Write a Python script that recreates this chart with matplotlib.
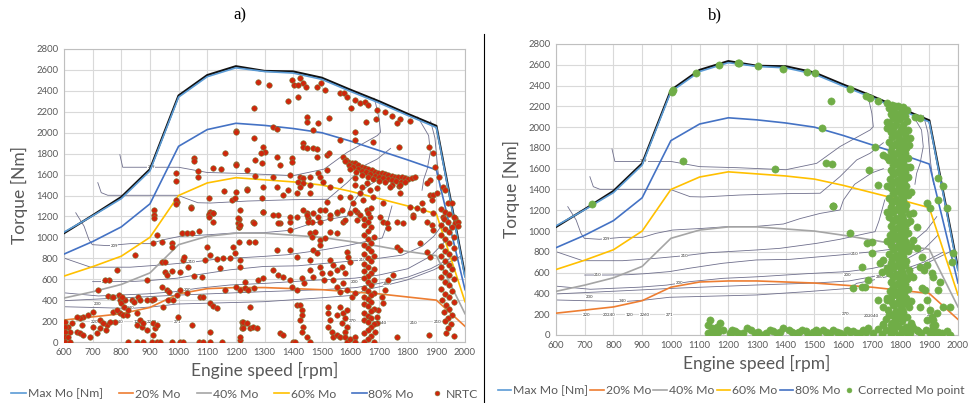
import matplotlib
matplotlib.use("Agg")
import matplotlib.pyplot as plt
from matplotlib.lines import Line2D
import numpy as np

plt.rcParams['font.family'] = ['Lato', 'DejaVu Sans']

# ---------------- data ----------------
rpm = [600, 700, 800, 900, 1000, 1100, 1200, 1300, 1400, 1500, 1600, 1700, 1800, 1900, 2000]
max_mo = [1050, 1205, 1370, 1635, 2340, 2535, 2620, 2585, 2570, 2510, 2395, 2285, 2165, 2050, 620]
full_load = [1040, 1210, 1385, 1650, 2355, 2550, 2635, 2590, 2585, 2525, 2410, 2300, 2180, 2065, 640]
mo80 = [840, 960, 1100, 1320, 1870, 2030, 2090, 2070, 2040, 2000, 1920, 1830, 1740, 1645, 500]
mo60 = [630, 720, 820, 1000, 1400, 1520, 1570, 1550, 1530, 1500, 1440, 1370, 1300, 1225, 385]
mo40 = [420, 480, 550, 660, 930, 1010, 1040, 1040, 1020, 1000, 960, 915, 865, 825, 270]
mo20 = [210, 240, 270, 330, 460, 510, 520, 520, 510, 500, 480, 460, 430, 400, 150]

contour_lines = [
    [(795, 1790), (805, 1670), (900, 1670), (1000, 1670), (1100, 1620), (1230, 1610), (1400, 1590),
     (1508, 1652), (1589, 1813), (1694, 1973), (1705, 2005), (1700, 2133), (1688, 2280), (1682, 2330)],
    [(718, 1523), (730, 1427), (753, 1402), (997, 1402), (1067, 1331), (1112, 1328), (1241, 1347),
     (1400, 1360), (1520, 1364), (1589, 1524), (1647, 1684), (1694, 1749), (1740, 1850)],
    [(641, 1235), (670, 1107), (687, 978), (699, 930), (751, 921), (832, 940), (902, 940), (948, 978),
     (1006, 1010), (1111, 1026), (1192, 1042), (1297, 1045), (1392, 1068), (1450, 1120), (1520, 1170),
     (1589, 1203), (1601, 1299), (1640, 1450), (1700, 1560), (1740, 1600)],
    [(600, 802), (693, 715), (832, 715), (948, 738), (1047, 763), (1134, 792), (1297, 818), (1380, 834),
     (1508, 882), (1589, 921), (1682, 978), (1711, 994), (1725, 1100), (1745, 1300)],
    [(700, 577), (780, 577), (850, 580), (910, 590), (995, 610), (1064, 642), (1180, 690), (1297, 722),
     (1415, 728), (1589, 770), (1705, 802), (1780, 830), (1850, 914), (1891, 1010), (1926, 1139)],
    [(600, 470), (720, 440), (890, 460), (985, 480), (1065, 513), (1180, 545), (1300, 560), (1473, 590),
     (1615, 610), (1700, 640), (1800, 700), (1880, 820), (1930, 960)],
    [(600, 395), (890, 433), (1006, 449), (1297, 481), (1500, 500), (1620, 520), (1700, 560), (1800, 620),
     (1880, 700), (1950, 800)],
    [(600, 337), (832, 321), (913, 337), (995, 363), (1297, 385), (1473, 417), (1624, 449), (1647, 497),
     (1705, 529), (1798, 593), (1891, 690), (1984, 818)],
    [(1835, 2150), (1873, 1973), (1879, 1813), (1868, 1652), (1856, 1556), (1850, 1450)],
    [(1880, 2110), (1895, 1950), (1900, 1800), (1905, 1650), (1915, 1450)],
]
contour_labels = ["209", "209", "210", "210", "210", "200", "200", "280", "230", "240",
                  "220", "20240", "120", "2260", "271", "270", "202040", "210", "210"]
contour_label_pos = [(905, 1672), (775, 922), (1047, 763), (745, 577), (1641, 779), (1030, 497),
                     (1615, 577), (1726, 555), (716, 362), (832, 327), (705, 193), (786, 193),
                     (855, 193), (908, 193), (995, 193), (1607, 199), (1700, 183), (1821, 177),
                     (1903, 193)]

nrtc_points = [
    (914, 1262), (914, 1214), (914, 1182), (923, 1023), (912, 943), (941, 953), (978, 943), (978, 911),
    (993, 1341), (1044, 1293), (1011, 1039), (1028, 1039), (1046, 1039), (1071, 1064), (1106, 1214),
    (1121, 1230), (1110, 1245), (1098, 905), (848, 832), (941, 768), (953, 768), (953, 672), (958, 640),
    (978, 682), (1005, 672), (1014, 784), (1019, 816), (1032, 720), (1055, 631), (1081, 624), (1092, 784),
    (1110, 832), (1133, 790), (1145, 704), (1156, 800), (1180, 800), (1197, 848), (1214, 784), (1206, 1140),
    (1212, 1102), (1191, 911), (889, 593), (784, 688), (758, 593), (743, 593), (718, 497), (755, 440),
    (766, 433), (772, 433), (793, 449), (795, 401), (798, 370), (813, 401), (810, 338), (836, 401),
    (846, 385), (860, 433), (866, 401), (889, 401), (906, 401), (915, 408), (947, 338), (964, 401),
    (982, 401), (993, 449), (958, 497), (967, 481), (941, 529), (1005, 497), (1028, 465), (1075, 433),
    (1087, 433), (1110, 370), (1121, 344), (1133, 328), (1162, 497), (1214, 497), (668, 242), (685, 258),
    (702, 290), (726, 210), (795, 274), (778, 194), (749, 163), (761, 194), (726, 131), (747, 115),
    (714, 83), (691, 51), (702, 147), (656, 226), (662, 163), (644, 99), (656, 83), (668, 67), (615, 147),
    (621, 99), (603, 194), (603, 147), (603, 99), (603, 51), (603, 3), (615, 51), (621, 3), (627, 179),
    (644, 242), (737, 179), (772, 290), (786, 306), (801, 433), (807, 258), (819, 258), (825, 306),
    (854, 274), (866, 210), (854, 163), (871, 147), (877, 179), (889, 115), (825, 3), (854, 3), (877, 3),
    (906, 3), (923, 3), (935, 3), (978, 3), (1005, 3), (1017, 3), (912, 67), (918, 131), (912, 179),
    (923, 163), (999, 242), (1046, 163), (1071, 3), (1087, 3), (1110, 3), (1110, 99), (1150, 3),
    (1214, 19), (1220, 194), (1226, 163), (1220, 131),
    (1199, 2019), (991, 1611), (991, 1541), (1055, 1761), (1055, 1733), (1069, 1637), (1069, 1580),
    (1121, 1659), (1147, 1650), (1162, 1809), (1199, 1701), (1238, 1643), (1107, 1373), (1160, 1446),
    (1199, 1436), (1238, 1459), (1185, 1357), (991, 1357), (991, 1318), (1044, 1277), (1107, 1223),
    (1121, 1229), (1107, 1191), (1121, 1150), (1212, 1178), (1212, 1102),
    (1279, 2487), (1317, 2455), (1395, 2503), (1424, 2519), (1433, 2478), (1404, 2455), (1418, 2455),
    (1445, 2440), (1418, 2344), (1485, 2440), (1496, 2471), (1511, 2408), (1564, 2376), (1578, 2382),
    (1589, 2344), (1616, 2312), (1634, 2287), (1651, 2296), (1601, 2232), (1663, 2264), (1692, 2217),
    (1721, 2201), (1746, 2159), (1773, 2127), (1808, 2115), (1654, 2105), (1689, 2127), (1761, 2089),
    (1383, 2306), (1447, 2153), (1447, 2105), (1488, 2096), (1526, 2140), (1263, 2232), (1201, 2010),
    (1331, 2057), (1342, 2032), (1471, 2026), (1564, 1930), (1616, 2010), (1616, 1930), (1680, 1914),
    (1771, 1866), (1876, 1866), (1887, 1809), (1263, 1946), (1296, 1860), (1302, 1818), (1287, 1803),
    (1342, 1771), (1395, 1761), (1395, 1723), (1433, 1898), (1433, 1866), (1447, 1850), (1471, 1850),
    (1485, 1841), (1517, 1787), (1526, 1803), (1267, 1739), (1290, 1707), (1201, 1691), (1354, 1691),
    (1482, 1771),
    (1573, 1771), (1585, 1739), (1593, 1723), (1604, 1713), (1616, 1707), (1628, 1691), (1639, 1675),
    (1651, 1659), (1663, 1650), (1674, 1643), (1686, 1627), (1698, 1618), (1709, 1611), (1721, 1605),
    (1732, 1596), (1744, 1589), (1756, 1580), (1767, 1580), (1779, 1573), (1791, 1564), (1802, 1557),
    (1814, 1564), (1826, 1580),
    (1580, 1730), (1595, 1690), (1610, 1675), (1625, 1655), (1640, 1635), (1655, 1620), (1670, 1605),
    (1685, 1590), (1700, 1578), (1715, 1565), (1730, 1555), (1745, 1545), (1760, 1540), (1775, 1530),
    (1790, 1525),
    (1600, 1650), (1620, 1625), (1640, 1600), (1660, 1580), (1680, 1560), (1700, 1540), (1720, 1525),
    (1745, 1505), (1770, 1495),
    (1424, 1580), (1433, 1564), (1418, 1532), (1433, 1516), (1459, 1580), (1488, 1611), (1494, 1580),
    (1517, 1643), (1389, 1596), (1329, 1580), (1267, 1586), (1238, 1452), (1296, 1484), (1342, 1484),
    (1383, 1452), (1424, 1484), (1459, 1500), (1505, 1532), (1529, 1484), (1564, 1548), (1616, 1564),
    (1616, 1500), (1639, 1484), (1657, 1516), (1668, 1452), (1692, 1468), (1738, 1484), (1773, 1500),
    (1197, 1373), (1290, 1373), (1366, 1404), (1412, 1420), (1459, 1420), (1517, 1341), (1564, 1389),
    (1599, 1389), (1610, 1325), (1634, 1420), (1645, 1357), (1680, 1389), (1715, 1325), (1773, 1420),
    (1808, 1293), (1849, 1325), (1855, 1261), (1878, 1404), (1890, 1404), (1884, 1357), (1901, 1420),
    (1878, 1548), (1866, 1516), (1895, 1675), (1924, 1484), (1930, 1452), (1910, 1580), (1942, 1325),
    (1953, 1325), (1965, 1182), (1965, 1134), (1924, 1197), (1209, 1182), (1261, 1150), (1296, 1245),
    (1348, 1213), (1354, 1134), (1389, 1150), (1412, 1197), (1447, 1229), (1453, 1182), (1465, 1150),
    (1488, 1197), (1494, 1150), (1529, 1182), (1552, 1229), (1575, 1150), (1622, 1245), (1634, 1213),
    (1622, 1166), (1657, 1261), (1668, 1197), (1703, 1197), (1715, 1150), (1761, 1150), (1820, 1213),
    (1866, 1150), (1890, 1229),
    (1215, 1261), (1215, 1118), (1263, 1134), (1296, 1245), (1331, 1214), (1348, 1134), (1389, 1198),
    (1389, 1070), (1436, 1261), (1447, 1214), (1453, 1150), (1471, 1230), (1494, 1261), (1511, 1261),
    (1529, 1214), (1552, 1245), (1570, 1261), (1581, 1166), (1599, 1230), (1616, 1261), (1459, 1039),
    (1465, 1007), (1476, 1055), (1494, 975), (1511, 991), (1494, 927), (1529, 1055), (1552, 1039),
    (1212, 959), (1247, 959), (1267, 959), (1342, 879), (1389, 879), (1412, 816), (1471, 879), (1482, 847),
    (1529, 784), (1540, 736), (1552, 688), (1587, 863), (1593, 816), (1599, 768), (1570, 720), (1581, 656),
    (1529, 656), (1540, 593), (1552, 529), (1564, 481), (1575, 561), (1587, 497), (1494, 720), (1500, 656),
    (1506, 593), (1459, 784), (1459, 688), (1471, 624), (1430, 608), (1438, 561), (1389, 593), (1395, 529),
    (1412, 497), (1331, 688), (1348, 640), (1366, 624), (1279, 593), (1296, 608), (1232, 577), (1232, 513),
    (1244, 497), (1201, 529), (1263, 513), (1215, 720), (1412, 354), (1424, 354), (1430, 306), (1430, 258),
    (1424, 210), (1436, 147), (1430, 99), (1401, 0), (1408, 0), (1447, 51), (1459, 0), (1523, 338),
    (1523, 274), (1529, 210), (1523, 147), (1535, 99), (1540, 51), (1552, 67), (1564, 45), (1564, 338),
    (1575, 274), (1581, 226), (1587, 306), (1570, 179), (1587, 147), (1581, 99), (1581, 51), (1587, 3),
    (1552, 258), (1599, 26), (1616, 51), (1616, 3), (1604, 433), (1616, 465), (1226, 194), (1238, 179),
    (1249, 131), (1261, 147), (1273, 131), (1226, 131), (1215, 51), (1249, 338), (1354, 83), (1366, 67),
    (1709, 433), (1721, 497), (1715, 370), (1698, 306), (1692, 242), (1692, 179), (1686, 99), (1761, 51),
    (1750, 640), (1732, 593), (1761, 911), (1773, 879), (1785, 1134), (1727, 1134), (1732, 1087),
    (1820, 1198), (1831, 1277), (1843, 943), (1866, 863), (1878, 816), (1884, 1118), (1890, 1070),
    (1875, 67),
    (1648, 1180), (1660, 1150), (1648, 1120), (1672, 1100), (1660, 1060), (1648, 1020), (1684, 1000),
    (1660, 980), (1672, 950), (1648, 930), (1660, 900), (1672, 870), (1648, 840), (1684, 820), (1660, 800),
    (1672, 770), (1648, 750), (1660, 720), (1684, 700), (1648, 680), (1672, 660), (1660, 630), (1648, 610),
    (1684, 590), (1660, 570), (1672, 540), (1648, 520), (1660, 490), (1684, 470), (1672, 450), (1648, 430),
    (1660, 410), (1672, 380), (1648, 360), (1660, 340), (1684, 320), (1672, 300), (1648, 280), (1660, 250),
    (1672, 230), (1648, 210), (1660, 190), (1684, 170), (1672, 140), (1660, 110), (1648, 90), (1672, 60),
    (1660, 30), (1648, 0), (1684, 0), (1660, 1230), (1672, 1280),
    (1915, 1270), (1930, 1240), (1945, 1220), (1960, 1190), (1925, 1180), (1940, 1150), (1915, 1120),
    (1955, 1100), (1930, 1080), (1945, 1050), (1915, 1020), (1960, 1000), (1930, 980), (1945, 950),
    (1915, 920), (1960, 900), (1930, 870), (1945, 840), (1915, 820), (1960, 800), (1930, 770), (1945, 740),
    (1915, 720), (1955, 700), (1930, 670), (1945, 640), (1915, 620), (1960, 600), (1930, 570), (1945, 540),
    (1915, 510), (1955, 490), (1930, 460), (1945, 430), (1920, 400), (1960, 380), (1935, 350), (1945, 320),
    (1925, 290), (1955, 260), (1940, 230), (1930, 200), (1950, 170), (1940, 130), (1935, 90), (1960, 60),
    (1975, 1150), (1975, 1110),
]

corrected_points = [
    (1752, 2230), (1770, 2215), (1790, 2200), (1808, 2190), (1821, 2165), (1760, 2180), (1778, 2160),
    (1800, 2150), (1765, 2130), (1790, 2120), (1815, 2110), (1772, 2085), (1798, 2075), (1822, 2060),
    (1760, 2040), (1785, 2030), (1810, 2020), (1775, 1995), (1800, 1985), (1825, 1975), (1765, 1950),
    (1790, 1940), (1815, 1930), (1770, 1905), (1795, 1895), (1820, 1885), (1760, 1860), (1785, 1850),
    (1810, 1840), (1830, 1830), (1770, 1815), (1795, 1805), (1820, 1795), (1765, 1770), (1790, 1760),
    (1815, 1750), (1775, 1725), (1800, 1715), (1825, 1705), (1760, 1680), (1785, 1670), (1810, 1660),
    (1772, 1635), (1797, 1625), (1822, 1615), (1765, 1590), (1790, 1580), (1815, 1570), (1775, 1545),
    (1800, 1535), (1825, 1525), (1762, 1500), (1787, 1490), (1812, 1480), (1770, 1455), (1795, 1445),
    (1820, 1435), (1765, 1410), (1790, 1400), (1815, 1390), (1775, 1365), (1800, 1355), (1825, 1345),
    (1760, 1320), (1785, 1310), (1810, 1300), (1770, 1275), (1795, 1265), (1820, 1255), (1765, 1230),
    (1790, 1220), (1815, 1210), (1775, 1185), (1800, 1175), (1828, 1165), (1760, 1140), (1785, 1130),
    (1810, 1120), (1772, 1095), (1797, 1085), (1822, 1075), (1765, 1050), (1790, 1040), (1815, 1030),
    (1775, 1005), (1800, 995), (1825, 985), (1762, 960), (1787, 950), (1812, 940), (1770, 915),
    (1795, 905), (1820, 895), (1765, 870), (1790, 860), (1815, 850), (1775, 825), (1800, 815),
    (1825, 805), (1760, 780), (1785, 770), (1810, 760), (1770, 735), (1795, 725), (1820, 715),
    (1765, 690), (1790, 680), (1815, 670), (1775, 645), (1800, 635), (1828, 625), (1760, 600),
    (1785, 590), (1810, 580), (1772, 555), (1797, 545), (1822, 535), (1765, 510), (1790, 500),
    (1815, 490), (1775, 465), (1800, 455), (1825, 445), (1762, 420), (1787, 410), (1812, 400),
    (1770, 375), (1795, 365), (1820, 355), (1765, 330), (1790, 320), (1815, 310), (1775, 285),
    (1800, 275), (1830, 265), (1755, 240), (1785, 230), (1810, 220), (1770, 195), (1795, 185),
    (1822, 175), (1750, 150), (1780, 140), (1805, 130), (1835, 120), (1740, 105), (1765, 95), (1792, 85),
    (1818, 75), (1845, 65), (1720, 55), (1750, 45), (1778, 35), (1805, 25), (1832, 15), (1860, 40),
    (1735, 10), (1765, 5), (1795, 0), (1825, 5),
    (1782, 2205), (1805, 2170), (1786, 2100), (1778, 2010), (1806, 1960), (1782, 1920), (1806, 1870),
    (1780, 1830), (1806, 1785), (1782, 1740), (1806, 1690), (1781, 1650), (1808, 1600), (1780, 1560),
    (1808, 1510), (1782, 1470), (1806, 1420), (1780, 1380), (1808, 1330), (1781, 1290), (1806, 1240),
    (1782, 1200), (1806, 1150), (1780, 1110), (1808, 1060), (1782, 1020), (1806, 970), (1780, 930),
    (1808, 880), (1782, 840), (1806, 790), (1780, 750), (1808, 700), (1782, 660), (1806, 610),
    (1780, 570), (1808, 520), (1782, 480), (1806, 430), (1780, 390), (1808, 340), (1782, 300),
    (1806, 250), (1780, 210), (1808, 160), (1782, 115), (1806, 60), (1770, 60), (1840, 90),
    (1832, 1900), (1834, 1620), (1836, 1380), (1834, 1100), (1836, 860), (1832, 580), (1836, 330),
    (1752, 1990), (1754, 1710), (1752, 1430), (1754, 1180), (1752, 900), (1754, 640), (1752, 360),
    (1566, 1241), (1624, 978), (1682, 882), (1700, 898), (1700, 786), (1665, 658), (1688, 529),
    (1636, 449), (1665, 465), (1676, 459), (1729, 690), (1740, 722), (1734, 610), (1723, 337),
    (1752, 337), (1740, 273), (1758, 193), (1770, 112), (1740, 97), (1845, 1171), (1856, 1042),
    (1845, 914), (1856, 834), (1874, 754), (1868, 658), (1880, 626), (1845, 561), (1891, 674),
    (1909, 593), (1914, 561), (1874, 449), (1885, 433), (1932, 433), (1938, 513), (1891, 337),
    (1868, 273), (1903, 241), (1909, 177), (1926, 209), (1891, 144), (1920, 96), (1949, 273),
    (1972, 273), (1978, 706), (1984, 786), (1914, 144), (1914, 96), (1914, 64),
    (1212, 32), (1235, 16), (1264, 64), (1293, 16), (1316, 0), (1345, 48), (1369, 16), (1392, 64),
    (1421, 32), (1438, 16), (1456, 48), (1479, 0), (1496, 32), (1514, 16), (1531, 48), (1554, 16),
    (1577, 32), (1601, 0), (1624, 32), (1647, 16), (1670, 48), (1688, 64), (1705, 16), (1821, 64),
    (1856, 48), (1903, 16), (1932, 32), (1972, 0), (1225, 40), (1250, 20), (1280, 45), (1305, 30),
    (1330, 20), (1355, 35), (1380, 30), (1410, 50), (1445, 25), (1470, 40), (1505, 45), (1540, 25),
    (1565, 45), (1590, 20), (1612, 50), (1635, 40), (1660, 20), (1680, 30), (1870, 20), (1890, 45),
    (1915, 30), (1945, 15), (1960, 40),
    (1130, 96), (1136, 144), (1142, 64), (1148, 32), (1159, 80), (1165, 32), (1171, 112), (1154, 0),
    (1130, 16), (1183, 48), (1136, 0), (1206, 16), (1212, 48),
    (724, 1261), (1006, 2358), (1003, 2342), (1087, 2518), (1166, 2598), (1235, 2614), (1041, 1675),
    (1239, 2614), (1302, 2592), (1392, 2560), (1473, 2528), (1502, 2518), (1624, 2367), (1557, 2252),
    (1680, 2303), (1694, 2278), (1723, 2255), (1850, 2101), (1868, 2085), (1525, 1989), (1363, 1598),
    (1540, 1659), (1560, 1646), (1711, 1813), (1740, 1733), (1691, 1588), (1723, 1444), (1566, 1245),
    (1932, 1508), (1947, 1434), (1932, 1299), (1961, 1219), (1891, 1267), (1903, 1219), (1752, 2053),
]

x_ticks = list(range(600, 2001, 100))
y_ticks = list(range(0, 2801, 200))

# ---------------- figure ----------------
W, H = 974, 403
fig = plt.figure(figsize=(W / 100, H / 100), dpi=100)

def px_axes(l, r, t, b):
    return fig.add_axes([l / W, 1 - b / H, (r - l) / W, (b - t) / H])

ax_a = px_axes(64, 465, 49, 342)
ax_b = px_axes(556, 958, 44, 335)

series = [
    ("Max Mo [Nm]", max_mo, '#5B9BD5'),
    ("20% Mo", mo20, '#ED7D31'),
    ("40% Mo", mo40, '#A5A5A5'),
    ("60% Mo", mo60, '#FFC000'),
    ("80% Mo", mo80, '#4472C4'),
]

def draw_panel(ax, points, pcolor, pedge, psize):
    ax.set_xlim(600, 2000)
    ax.set_ylim(0, 2800)
    ax.set_xticks(x_ticks)
    ax.set_yticks(y_ticks)
    ax.grid(True, color='#D9D9D9', lw=0.8)
    ax.set_axisbelow(True)
    for s in ax.spines.values():
        s.set_color('#BFBFBF')
        s.set_linewidth(0.8)
    ax.tick_params(length=0, labelsize=6.8, colors='#595959', pad=4)
    for line in contour_lines:
        xs, ys = zip(*line)
        ax.plot(xs, ys, color='#6F6F8C', lw=0.6, zorder=2)
    for lab, (lx, ly) in zip(contour_labels, contour_label_pos):
        ax.text(lx, ly, lab, fontsize=3.2, color='#333333', ha='center', va='center', zorder=2.5,
                bbox=dict(boxstyle='square,pad=0.05', fc='white', ec='none'))
    ax.plot(rpm, full_load, color='#111111', lw=1.6, zorder=3)
    for lab, vals, col in series:
        ax.plot(rpm, vals, color=col, lw=1.2, zorder=3.2)
    xs, ys = zip(*points)
    ax.scatter(xs, ys, s=psize, c=pcolor, edgecolors=pedge, linewidths=0.4, zorder=4)
    ax.set_xlabel("Engine speed [rpm]", fontsize=12.5, color='#595959', labelpad=4)
    ax.set_ylabel("Torque [Nm]", fontsize=12.5, color='#595959', labelpad=6)

draw_panel(ax_a, nrtc_points, '#D0260C', '#7D8040', 16)
draw_panel(ax_b, corrected_points, '#70AD47', '#70AD47', 27)

def legend_handles(plabel, pcolor, pedge):
    hs = [Line2D([0], [0], color=c, lw=1.2) for _, _, c in series]
    hs.append(Line2D([0], [0], marker='o', ls='none', markersize=3.5, markerfacecolor=pcolor,
                     markeredgecolor=pedge, markeredgewidth=0.4))
    labels = [s[0] for s in series] + [plabel]
    return hs, labels

h, l = legend_handles("NRTC", '#D0260C', '#7D8040')
fig.legend(h, l, loc='center', bbox_to_anchor=(245 / W, 1 - 394 / H), ncol=6, frameon=False,
           fontsize=8.8, handlelength=1.2, handletextpad=0.15, columnspacing=1.3,
           labelcolor='#595959')
h, l = legend_handles("Corrected Mo point", '#70AD47', '#70AD47')
fig.legend(h, l, loc='center', bbox_to_anchor=(731 / W, 1 - 391 / H), ncol=6, frameon=False,
           fontsize=8.8, handlelength=1.1, handletextpad=0.15, columnspacing=0.2,
           labelcolor='#595959')

fig.text(240 / W, 1 - 15 / H, "a)", fontsize=12, family='Liberation Serif', ha='center', va='center')
fig.text(715 / W, 1 - 15 / H, "b)", fontsize=12, family='Liberation Serif', ha='center', va='center')
fig.add_artist(Line2D([484 / W, 484 / W], [0, 1 - 34 / H], color='black', lw=0.8))

fig.savefig("out.png", dpi=100)
